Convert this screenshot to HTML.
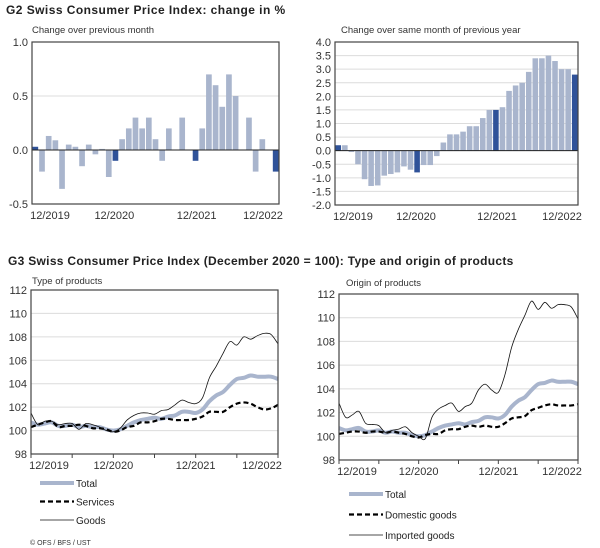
<!DOCTYPE html>
<html><head><meta charset="utf-8"><style>
body{margin:0;background:#fff;font-family:"Liberation Sans",Arial,sans-serif;}
svg{display:block}
</style></head><body>
<svg id="s" width="600" height="548" viewBox="0 0 600 548" xmlns="http://www.w3.org/2000/svg" font-family="Liberation Sans, Arial, sans-serif">
<text x="6" y="14" font-size="12" font-weight="bold" fill="#222" letter-spacing="0.45">G2  Swiss Consumer Price Index: change in %</text>
<text x="32" y="33" font-size="9.5" fill="#333">Change over previous month</text>
<text x="341" y="33" font-size="9.5" fill="#333">Change over same month of previous year</text>
<text x="8" y="265" font-size="12" font-weight="bold" fill="#222" letter-spacing="0.3">G3  Swiss Consumer Price Index (December 2020 = 100): Type and origin of products</text>
<text x="32" y="284" font-size="9.5" fill="#333">Type of products</text>
<text x="346" y="286" font-size="9.5" fill="#333">Origin of products</text>
<text x="30" y="545" font-size="7" fill="#333">© OFS / BFS / UST</text>
<g id="root"></g>
</svg>
<script>
const momValues=[0.03,-0.2,0.13,0.09,-0.36,0.05,0.03,-0.15,0.05,-0.04,0.01,-0.25,-0.1,0.1,0.2,0.3,0.2,0.3,0.1,-0.1,0.2,0.0,0.3,0.0,-0.1,0.2,0.7,0.6,0.4,0.7,0.5,0.0,0.3,-0.2,0.1,0.0,-0.2];
const yoyValues=[0.2,0.2,-0.05,-0.5,-1.05,-1.3,-1.28,-0.92,-0.86,-0.8,-0.58,-0.7,-0.8,-0.53,-0.53,-0.2,0.3,0.6,0.6,0.7,0.9,0.9,1.2,1.5,1.5,1.6,2.2,2.4,2.5,2.9,3.4,3.4,3.5,3.3,3.0,3.0,2.8];
const totalValues=[100.7,100.5,100.6,100.7,100.4,100.4,100.5,100.3,100.4,100.3,100.3,100.1,100.0,100.1,100.4,100.7,100.9,101.0,101.1,101.0,101.2,101.3,101.6,101.6,101.5,101.8,102.5,103.0,103.3,103.9,104.4,104.5,104.7,104.6,104.6,104.6,104.4];
const servicesValues=[100.3,100.5,100.7,100.8,100.3,100.4,100.4,100.5,100.4,100.2,100.2,100.1,99.9,100.0,100.3,100.4,100.7,100.7,100.8,101.0,101.0,100.9,100.9,100.9,101.0,101.2,101.6,101.6,101.6,102.0,102.3,102.4,102.3,102.0,101.8,101.9,102.2];
const goodsValues=[101.5,100.5,100.8,100.8,100.5,100.6,100.6,100.1,100.6,100.5,100.3,100.0,99.9,100.2,100.9,101.3,101.5,101.5,101.4,101.7,101.8,102.2,102.6,102.4,102.3,102.8,104.5,105.5,106.6,107.6,107.3,108.0,107.8,108.1,108.3,108.2,107.4];
const domesticValues=[100.2,100.3,100.4,100.4,100.3,100.4,100.4,100.3,100.4,100.3,100.2,100.0,99.9,100.1,100.2,100.2,100.5,100.6,100.6,100.8,100.9,100.8,100.9,100.8,100.8,101.1,101.5,101.6,101.7,102.2,102.4,102.6,102.7,102.6,102.6,102.6,102.7];
const importedValues=[102.8,101.6,101.8,102.1,101.1,101.0,100.9,100.3,100.5,100.6,100.8,100.3,100.0,99.8,101.6,102.3,102.6,102.8,102.1,102.5,102.8,103.9,104.4,103.9,103.7,105.2,107.5,109.0,110.2,111.4,110.7,111.3,110.8,111.1,111.1,110.9,109.9];
const xTickLabels=["12/2019","12/2020","12/2021","12/2022"];
const momTicks=[-0.5,0.0,0.5,1.0];
const yoyTicks=[-2.0,-1.5,-1.0,-0.5,0.0,0.5,1.0,1.5,2.0,2.5,3.0,3.5,4.0];
const indexTicks=[98,100,102,104,106,108,110,112];

const NS="http://www.w3.org/2000/svg";
const root=document.getElementById('root');
function mk(tag,attrs,parent){const e=document.createElementNS(NS,tag);for(const k in attrs)e.setAttribute(k,attrs[k]);(parent||root).appendChild(e);return e;}

function frame(cfg){
  const g=mk('g',{});
  
  
  const y=v=>cfg.y1-(v-cfg.min)/(cfg.max-cfg.min)*(cfg.y1-cfg.y0);
  cfg.ticks.forEach(t=>{
    const ln=mk('line',{x1:cfg.x0,x2:cfg.x1,y1:y(t),y2:y(t),stroke:'#dcdcdc','stroke-width':1},g);
    
    
    const tx=mk('text',{x:cfg.x0-4,y:y(t)+4,'font-size':11,'text-anchor':'end',fill:'#333'},g);
    tx.textContent=cfg.fmt(t);
    
    
  });
  return {g,y};
}
function xaxis(cfg,g,n,centered){
  const step=(cfg.x1-cfg.x0)/(centered?n:n-1);
  xTickLabels.forEach((l,i)=>{
    const xx=cfg.x0+i*12*step+(centered?step/2:0);
    const tx=mk('text',{x:Math.min(Math.max(xx,cfg.x0+18),cfg.x1-16),y:cfg.y1+15,'font-size':11,'text-anchor':'middle',fill:'#333'},g);
    tx.textContent=l;
    
    
  });
}
function border(cfg,g){
  const r=mk('rect',{x:cfg.x0,y:cfg.y0,width:cfg.x1-cfg.x0,height:cfg.y1-cfg.y0,fill:'none',stroke:'#444','stroke-width':1.2},g);
  
  
}
function bars(cfg,vals){
  const {g,y}=frame(cfg);
  const n=vals.length,w=(cfg.x1-cfg.x0)/n;
  vals.forEach((v,i)=>{
    const dark=i%12===0;
    const b=mk('rect',{x:cfg.x0+i*w+0.5,y:Math.min(y(v),y(0)),width:w-1,height:Math.abs(y(v)-y(0)),fill:dark?'#2f5299':'#a9b5cd'},g);
    
    
  });
  const z=mk('line',{x1:cfg.x0,x2:cfg.x1,y1:y(0),y2:y(0),stroke:'#222','stroke-width':1},g);
  
  
  border(cfg,g);
  xaxis(cfg,g,n,false);
}
function smooth(pts){
  let d='M'+pts[0][0]+','+pts[0][1];
  for(let i=0;i<pts.length-1;i++){
    const p0=pts[Math.max(i-1,0)],p1=pts[i],p2=pts[i+1],p3=pts[Math.min(i+2,pts.length-1)];
    const c1=[p1[0]+(p2[0]-p0[0])/6,p1[1]+(p2[1]-p0[1])/6],c2=[p2[0]-(p3[0]-p1[0])/6,p2[1]-(p3[1]-p1[1])/6];
    d+=' C'+c1+' '+c2+' '+p2;
  }
  return d;
}
function lines(cfg,series){
  const {g,y}=frame(cfg);
  const n=series[0].vals.length,step=(cfg.x1-cfg.x0)/(n-1);
  for(let i=0;i<n;i+=6){
    const t=mk('line',{x1:cfg.x0+i*step,x2:cfg.x0+i*step,y1:cfg.y1,y2:cfg.y1+4,stroke:'#444'},g);
    
    
  }
  series.forEach(s=>{
    const pts=s.vals.map((v,i)=>[+(cfg.x0+i*step).toFixed(2),+y(v).toFixed(2)]);
    const p=mk('path',{d:smooth(pts),fill:'none',stroke:s.color,'stroke-width':s.w,'stroke-dasharray':s.dash||'none','stroke-linejoin':'round'},g);
    
    
  });
  border(cfg,g);
  xaxis(cfg,g,n,false);
  series.forEach((s,i)=>{
    const ly=cfg.legY+i*cfg.legStep;
    const l=mk('line',{x1:cfg.legX,x2:cfg.legX+34,y1:ly,y2:ly,stroke:s.color,'stroke-width':s.w,'stroke-dasharray':s.dash||'none'},g);
    
    
    const t=mk('text',{x:cfg.legX+36,y:ly+4,'font-size':10,fill:'#222'},g);
    t.textContent=s.label;
    
    
  });
}
bars({name:'mom-chart',x0:32,x1:279,y0:42,y1:204,min:-0.5,max:1.0,ticks:momTicks,fmt:t=>t.toFixed(1)},momValues);
bars({name:'yoy-chart',x0:335,x1:578,y0:42,y1:205,min:-2,max:4,ticks:yoyTicks,fmt:t=>t.toFixed(1)},yoyValues);
lines({name:'type-chart',x0:31,x1:278,y0:290,y1:454,min:98,max:112,ticks:indexTicks,fmt:t=>t,legX:40,legY:483,legStep:18.5},
 [{name:'total',label:'Total',vals:totalValues,color:'#a9b5cd',w:4},
  {name:'services',label:'Services',vals:servicesValues,color:'#000',w:2.2,dash:'5,3'},
  {name:'goods',label:'Goods',vals:goodsValues,color:'#111',w:0.8}]);
lines({name:'origin-chart',x0:339,x1:578,y0:294,y1:460,min:98,max:112,ticks:indexTicks,fmt:t=>t,legX:349,legY:494,legStep:20.5},
 [{name:'total',label:'Total',vals:totalValues,color:'#a9b5cd',w:4},
  {name:'domestic',label:'Domestic goods',vals:domesticValues,color:'#000',w:2.2,dash:'5,3'},
  {name:'imported',label:'Imported goods',vals:importedValues,color:'#111',w:0.8}]);
</script>
</body></html>
